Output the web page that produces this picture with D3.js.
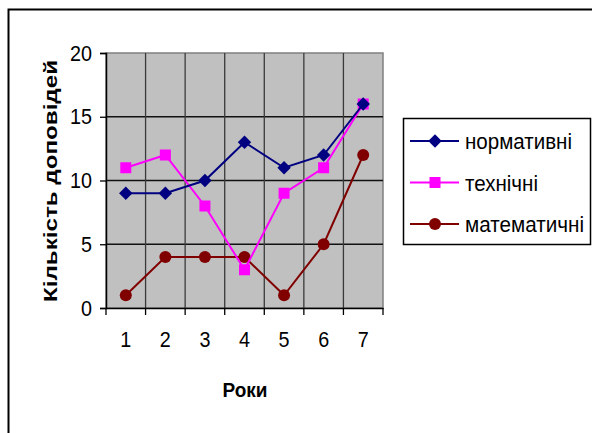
<!DOCTYPE html>
<html>
<head>
<meta charset="utf-8">
<script src="https://d3js.org/d3.v7.min.js"></script>
<style>
    body { margin: 0; background: #fff; }
    text { font-family: "Liberation Sans", Arial, sans-serif; }
</style>
</head>
<body>
<div id="chart"></div>
<script>
// chart data
const years = ["1", "2", "3", "4", "5", "6", "7"];
const normative = [9, 9, 10, 13, 11, 12, 16];
const technical = [11, 12, 8, 3, 9, 11, 16];
const mathematical = [1, 4, 4, 4, 1, 5, 12];
const yTicks = [0, 5, 10, 15, 20];
const seriesNames = ["нормативні", "технічні", "математичні"];

const width = 592, height = 433;
const plot = { left: 106, right: 383, top: 53, bottom: 308 };

const svg = d3.select("#chart")
    .append("svg")
    .attr("width", width)
    .attr("height", height);

// outer chart frame (runs off the right and bottom edges)
svg.append("rect")
    .attr("x", 8.5).attr("y", 9.5)
    .attr("width", 700).attr("height", 600)
    .attr("fill", "none")
    .attr("stroke", "#000")
    .attr("stroke-width", 2);

const x = d3.scaleBand()
    .domain(years)
    .range([plot.left, plot.right]);

const y = d3.scaleLinear()
    .domain([0, 20])
    .range([plot.bottom, plot.top]);

const cx = d => x(d) + x.bandwidth() / 2;

// plot area background
svg.append("rect")
    .attr("x", plot.left).attr("y", plot.top)
    .attr("width", plot.right - plot.left)
    .attr("height", plot.bottom - plot.top)
    .attr("fill", "#c0c0c0")
    .attr("stroke", "#808080")
    .attr("stroke-width", 1.5);

// horizontal gridlines
svg.append("g")
    .selectAll("line")
    .data(yTicks.slice(1, -1))
    .join("line")
    .attr("x1", plot.left).attr("x2", plot.right)
    .attr("y1", d => y(d)).attr("y2", d => y(d))
    .attr("stroke", "#111")
    .attr("stroke-width", 1.3);

// vertical gridlines at category boundaries
svg.append("g")
    .selectAll("line")
    .data(years.slice(1))
    .join("line")
    .attr("x1", d => x(d)).attr("x2", d => x(d))
    .attr("y1", plot.top).attr("y2", plot.bottom)
    .attr("stroke", "#3a3a3a")
    .attr("stroke-width", 1.3);

// y axis
const yAxis = svg.append("g")
    .attr("transform", `translate(${plot.left},0)`)
    .call(d3.axisLeft(y).tickValues(yTicks).tickSize(6).tickPadding(8));
yAxis.select(".domain").attr("stroke", "#000").attr("stroke-width", 1.5);
yAxis.selectAll(".tick line").attr("stroke", "#000").attr("stroke-width", 1.3);
yAxis.selectAll(".tick text")
    .attr("font-size", 22)
    .attr("fill", "#000")
    .attr("textLength", d => String(d).length * 11)
    .attr("lengthAdjust", "spacingAndGlyphs");

// x axis: line + boundary ticks, labels centered in bands
const xAxis = svg.append("g")
    .attr("transform", `translate(0,${plot.bottom})`)
    .call(d3.axisBottom(x).tickSize(0).tickPadding(23).tickSizeOuter(0));
xAxis.select(".domain").attr("stroke", "#000").attr("stroke-width", 1.5);
xAxis.selectAll(".tick text")
    .attr("font-size", 22)
    .attr("fill", "#000")
    .attr("textLength", 11)
    .attr("lengthAdjust", "spacingAndGlyphs");
xAxis.selectAll(".boundary")
    .data(years.concat(["end"]))
    .join("line")
    .attr("class", "boundary")
    .attr("x1", d => d === "end" ? plot.right : x(d))
    .attr("x2", d => d === "end" ? plot.right : x(d))
    .attr("y1", 0).attr("y2", 7)
    .attr("stroke", "#000")
    .attr("stroke-width", 1.3);

// axis titles
svg.append("text")
    .attr("transform", "translate(57,181) rotate(-90)")
    .attr("text-anchor", "middle")
    .attr("font-size", 18)
    .attr("font-weight", "bold")
    .attr("textLength", 242)
    .attr("lengthAdjust", "spacingAndGlyphs")
    .text("Кількість доповідей");

svg.append("text")
    .attr("x", 245).attr("y", 397)
    .attr("text-anchor", "middle")
    .attr("font-size", 21)
    .attr("font-weight", "bold")
    .attr("textLength", 45)
    .attr("lengthAdjust", "spacingAndGlyphs")
    .text("Роки");

// marker drawing helper
function drawMarker(g, type, color) {
    if (type === "diamond") {
        g.append("path").attr("d", d3.symbol().type(d3.symbolSquare).size(90)())
            .attr("transform", "rotate(45)")
            .attr("fill", color);
    } else if (type === "square") {
        g.append("rect").attr("x", -5.5).attr("y", -5.5)
            .attr("width", 11).attr("height", 11)
            .attr("fill", color);
    } else {
        g.append("circle").attr("r", 6).attr("fill", color);
    }
}

const series = [
    { name: seriesNames[0], values: normative, color: "#000080", marker: "diamond", textLen: 107 },
    { name: seriesNames[1], values: technical, color: "#ff00ff", marker: "square", textLen: 73 },
    { name: seriesNames[2], values: mathematical, color: "#800000", marker: "circle", textLen: 119 }
];

const line = d3.line()
    .x((d, i) => cx(years[i]))
    .y(d => y(d));

// draw series in reverse so the first series sits on top
series.slice().reverse().forEach(s => {
    svg.append("path")
        .datum(s.values)
        .attr("d", line)
        .attr("fill", "none")
        .attr("stroke", s.color)
        .attr("stroke-width", 2);

    s.values.forEach((v, i) => {
        const g = svg.append("g")
            .attr("transform", `translate(${cx(years[i])},${y(v)})`);
        drawMarker(g, s.marker, s.color);
    });
});

// legend
const legend = svg.append("g").attr("transform", "translate(403,118)");
legend.append("rect")
    .attr("x", 0.5).attr("y", 0.5)
    .attr("width", 187).attr("height", 126)
    .attr("fill", "#fff")
    .attr("stroke", "#000")
    .attr("stroke-width", 1.5);

series.forEach((s, i) => {
    const row = legend.append("g")
        .attr("transform", `translate(0,${23 + i * 41.5})`);
    row.append("line")
        .attr("x1", 7).attr("x2", 56)
        .attr("stroke", s.color)
        .attr("stroke-width", 2);
    drawMarker(row.append("g").attr("transform", "translate(32,0)"), s.marker, s.color);
    row.append("text")
        .attr("x", 62).attr("y", 8)
        .attr("font-size", 22)
        .attr("textLength", s.textLen)
        .attr("lengthAdjust", "spacingAndGlyphs")
        .text(s.name);
});
</script>
</body>
</html>
